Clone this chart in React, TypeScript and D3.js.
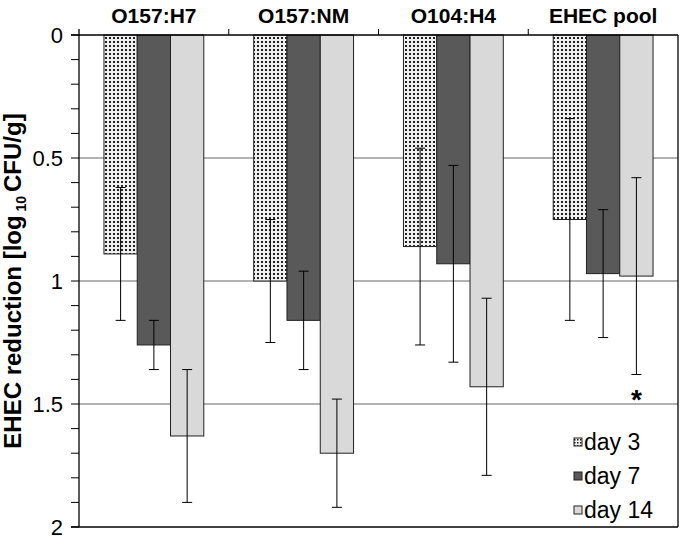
import React from "react";
import * as d3 from "d3";

const categories = ["O157:H7", "O157:NM", "O104:H4", "EHEC pool"];
const seriesNames = ["day 3", "day 7", "day 14"];
const day3 = [0.89, 1.0, 0.86, 0.75];
const day7 = [1.26, 1.16, 0.93, 0.97];
const day14 = [1.63, 1.7, 1.43, 0.98];
const day3Err = [0.27, 0.25, 0.4, 0.41];
const day7Err = [0.1, 0.2, 0.4, 0.26];
const day14Err = [0.27, 0.22, 0.36, 0.4];
const yTicks = [0, 0.5, 1, 1.5, 2];
const gridValues = [0.5, 1, 1.5];

export default function App() {
  const W = 680, H = 536;
  const left = 79, right = 678, top = 35, bottom = 527;
  const values = [day3, day7, day14];
  const errs = [day3Err, day7Err, day14Err];
  const fills = ["url(#dots)", "#595959", "#d9d9d9"];

  const x0 = d3.scaleBand<string>().domain(categories).range([left, right]).paddingInner(0).paddingOuter(0);
  const groupW = x0.bandwidth() * (100 / 150);
  const x1 = d3.scaleBand<string>().domain(seriesNames).range([0, groupW]).padding(0);
  const groupOff = (x0.bandwidth() - groupW) / 2;
  const y = d3.scaleLinear().domain([0, 2]).range([top, bottom]);
  const minorTicks = d3.range(0, 2.0001, 0.1);
  const font = "Arial, 'Liberation Sans', sans-serif";

  return (
    <svg width={W} height={H} style={{ position: "absolute", left: 0, top: 0, background: "#fff" }}>
      <defs>
        <pattern id="dots" width={4} height={4} patternUnits="userSpaceOnUse">
          <rect width={4} height={4} fill="#f0f0f0" />
          <rect x={1} y={1} width={2} height={2} fill="#222" />
        </pattern>
        <pattern id="dotsL" width={3} height={3} patternUnits="userSpaceOnUse">
          <rect width={3} height={3} fill="#eee" />
          <rect x={1} y={1} width={1.5} height={1.5} fill="#222" />
        </pattern>
      </defs>
      <rect width={W} height={H} fill="#fff" />
      {gridValues.map((g) => (
        <line key={g} x1={left} x2={right} y1={y(g)} y2={y(g)} stroke="#999" strokeWidth={1.3} />
      ))}
      {categories.map((c, ci) =>
        seriesNames.map((s, si) => {
          const bx = (x0(c) as number) + groupOff + (x1(s) as number);
          const v = values[si][ci];
          return (
            <rect key={c + s} x={bx} y={y(0)} width={x1.bandwidth()} height={y(v) - y(0)}
              fill={fills[si]} stroke="#222" strokeWidth={1} />
          );
        })
      )}
      {categories.map((c, ci) =>
        seriesNames.map((s, si) => {
          const cx = (x0(c) as number) + groupOff + (x1(s) as number) + x1.bandwidth() / 2;
          const v = values[si][ci];
          const e = errs[si][ci];
          return (
            <g key={"e" + c + s} stroke="#000" strokeWidth={1}>
              <line x1={cx} x2={cx} y1={y(v - e)} y2={y(v + e)} />
              <line x1={cx - 5} x2={cx + 5} y1={y(v - e)} y2={y(v - e)} />
              <line x1={cx - 5} x2={cx + 5} y1={y(v + e)} y2={y(v + e)} />
            </g>
          );
        })
      )}
      {/* asterisk */}
      <text x={(x0("EHEC pool") as number) + groupOff + (x1("day 14") as number) + x1.bandwidth() / 2}
        y={y(day14[3] + day14Err[3]) + 35} textAnchor="middle" fontFamily={font} fontWeight="bold" fontSize={28}>*</text>
      {/* axes frame */}
      <line x1={left} x2={left} y1={top - 6} y2={bottom} stroke="#000" strokeWidth={1.3} />
      <line x1={left - 8} x2={right} y1={top} y2={top} stroke="#000" strokeWidth={1.3} />
      <line x1={left - 8} x2={right} y1={bottom} y2={bottom} stroke="#000" strokeWidth={1.3} />
      <line x1={right} x2={right} y1={top} y2={bottom} stroke="#000" strokeWidth={1.3} />
      {minorTicks.map((t) => (
        <line key={"m" + t} x1={left - 8} x2={left} y1={y(t)} y2={y(t)} stroke="#000" strokeWidth={1} />
      ))}
      {categories.slice(1).map((c) => (
        <line key={"t" + c} x1={x0(c) as number} x2={x0(c) as number} y1={top - 6} y2={top} stroke="#000" strokeWidth={1} />
      ))}
      {yTicks.map((t) => (
        <text key={"yl" + t} x={63} y={y(t)} dy="0.35em" textAnchor="end" fontFamily={font} fontSize={22}>
          {d3.format("~g")(t)}
        </text>
      ))}
      {categories.map((c) => (
        <text key={"cl" + c} x={(x0(c) as number) + x0.bandwidth() / 2} y={23} textAnchor="middle"
          fontFamily={font} fontWeight="bold" fontSize={21}>{c}</text>
      ))}
      <text transform={`translate(21,${(top + bottom) / 2}) rotate(-90)`} textAnchor="middle"
        fontFamily={font} fontWeight="bold" fontSize={24}>
        EHEC reduction [log
        <tspan fontSize={14} dy={5}> 10 </tspan>
        <tspan dy={-5}>CFU/g]</tspan>
      </text>
      {/* legend */}
      {seriesNames.map((s, i) => {
        const ly = 442 + i * 34;
        return (
          <g key={"lg" + s}>
            <rect x={574} y={ly - 4} width={8} height={8} fill={i === 0 ? "url(#dotsL)" : fills[i]} stroke="#222" strokeWidth={1} />
            <text x={584} y={ly} dy="0.35em" fontFamily={font} fontSize={23}>{s}</text>
          </g>
        );
      })}
    </svg>
  );
}
